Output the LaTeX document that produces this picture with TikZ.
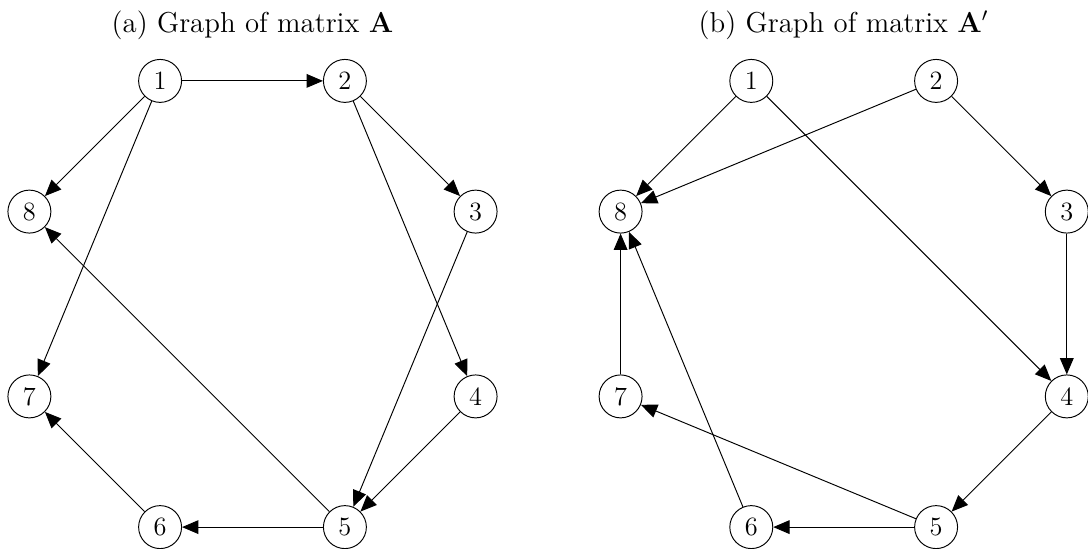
\documentclass[tikz,border=0pt]{standalone}
\usetikzlibrary{arrows.meta}
\begin{document}
\begin{tikzpicture}[x=0.41667pt,y=-0.41667pt,
  vtx/.style={circle,draw,minimum size=17.9pt,inner sep=0pt,line width=0.4pt,font=\fontsize{11}{13}\selectfont},
  edge/.style={-{Triangle[length=6.8pt,width=5.7pt]},line width=0.4pt},
  ttl/.style={anchor=base,font=\large}]
\useasboundingbox (0,0) rectangle (1088,549);
% titles
\node[ttl] (ta) at (252.5,32) {(a) Graph of matrix $\mathbf{A}$};
\node[ttl] (tb) at (843.7,32) {(b) Graph of matrix $\mathbf{A}'$};
% left graph
\node[vtx] (a1) at (160.1,80.9) {1};
\node[vtx] (a2) at (344.9,80.9) {2};
\node[vtx] (a3) at (475.6,211.6) {3};
\node[vtx] (a4) at (475.6,396.4) {4};
\node[vtx] (a5) at (344.9,527.1) {5};
\node[vtx] (a6) at (160.1,527.1) {6};
\node[vtx] (a7) at (29.4,396.4) {7};
\node[vtx] (a8) at (29.4,211.6) {8};
\draw[edge] (a1) -- (a2);
\draw[edge] (a1) -- (a8);
\draw[edge] (a1) -- (a7);
\draw[edge] (a2) -- (a3);
\draw[edge] (a2) -- (a4);
\draw[edge] (a3) -- (a5);
\draw[edge] (a4) -- (a5);
\draw[edge] (a5) -- (a8);
\draw[edge] (a5) -- (a6);
\draw[edge] (a6) -- (a7);
% right graph
\node[vtx] (b1) at (751.3,80.9) {1};
\node[vtx] (b2) at (936.1,80.9) {2};
\node[vtx] (b3) at (1066.8,211.6) {3};
\node[vtx] (b4) at (1066.8,396.4) {4};
\node[vtx] (b5) at (936.1,527.1) {5};
\node[vtx] (b6) at (751.3,527.1) {6};
\node[vtx] (b7) at (620.6,396.4) {7};
\node[vtx] (b8) at (620.6,211.6) {8};
\draw[edge] (b1) -- (b8);
\draw[edge] (b1) -- (b4);
\draw[edge] (b2) -- (b8);
\draw[edge] (b2) -- (b3);
\draw[edge] (b3) -- (b4);
\draw[edge] (b4) -- (b5);
\draw[edge] (b5) -- (b6);
\draw[edge] (b5) -- (b7);
\draw[edge] (b6) -- (b8);
\draw[edge] (b7) -- (b8);
\end{tikzpicture}
\end{document}
